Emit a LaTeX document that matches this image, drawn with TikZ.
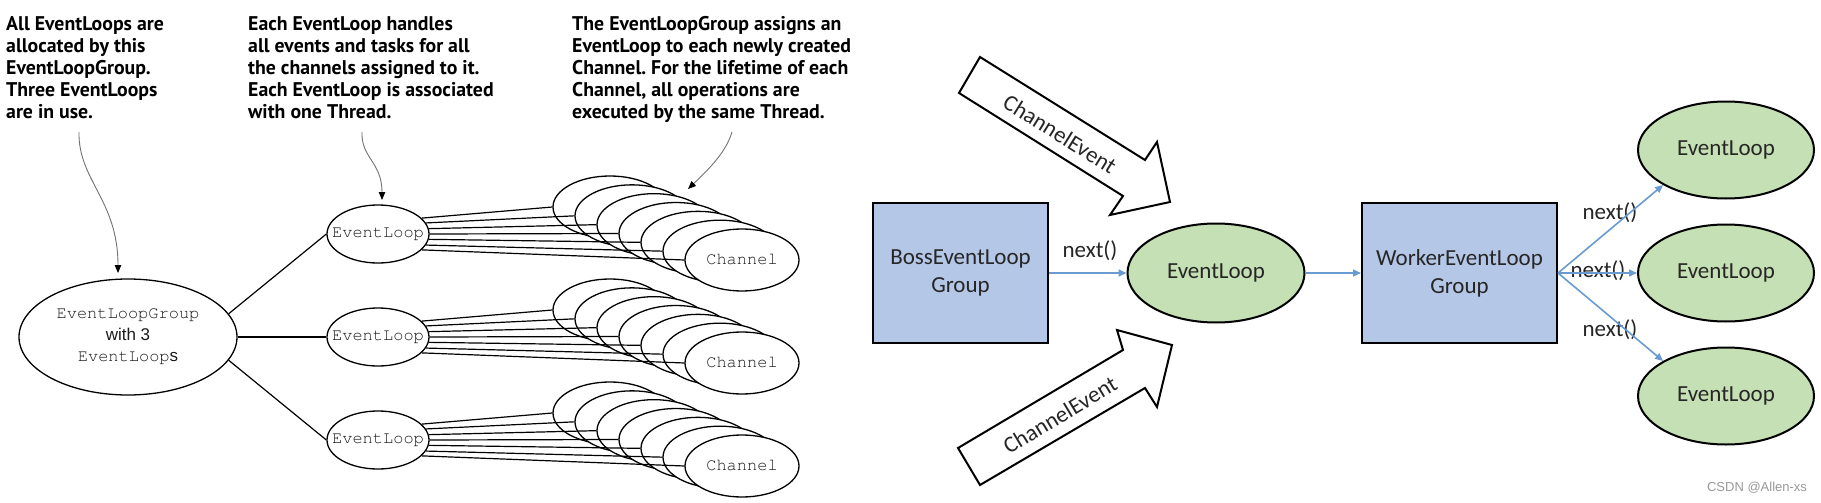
\documentclass[tikz,border=0pt]{standalone}
\usepackage{fontspec}
\setmainfont{Carlito}
\newfontfamily\annfont{PT Sans}
\newfontfamily\cmono{texgyrecursor}[Extension=.otf, UprightFont=*-regular, BoldFont=*-bold]
\newfontfamily\carial{Liberation Sans}
\usetikzlibrary{arrows.meta,shapes.geometric}
\definecolor{bossblue}{HTML}{B4C7E7}
\definecolor{elgreen}{HTML}{C5E0B4}
\definecolor{arrblue}{HTML}{6A9BD0}
\definecolor{txtdark}{HTML}{262626}
\definecolor{lefttxt}{HTML}{1A1A1A}
\frenchspacing
\begin{document}
\begin{tikzpicture}[x=1pt,y=-1pt,
  anntext/.style={anchor=north west, inner sep=0pt, align=left, text=black, font=\annfont\bfseries\fontsize{19.8}{22}\selectfont},
  annarrow/.style={draw=black!55, line width=0.9pt, -{Triangle[length=8pt,width=6.5pt,color=black]}},
  grpnode/.style={ellipse, draw=black, line width=1.3pt, fill=white, inner sep=0pt, minimum width=218pt, minimum height=116pt, align=center, text=lefttxt, font=\fontsize{17}{21.5}\selectfont},
  loopnode/.style={ellipse, draw=black, line width=1.3pt, fill=white, inner sep=0pt, minimum width=102pt, minimum height=58pt, text=lefttxt, font=\cmono\fontsize{17}{20}\selectfont},
  chnode/.style={ellipse, draw=black, line width=1.3pt, fill=white, inner sep=0pt, minimum width=114pt, minimum height=62pt, text=lefttxt, font=\cmono\fontsize{17}{20}\selectfont},
  wire/.style={draw=black, line width=1.2pt},
  groupbox/.style={rectangle, draw=black, line width=2pt, fill=bossblue, inner sep=0pt, minimum height=140pt, align=center, text=txtdark, font=\fontsize{23}{28}\selectfont},
  greenloop/.style={ellipse, draw=black, line width=2pt, fill=elgreen, inner sep=0pt, minimum width=176pt, minimum height=97pt, text=txtdark, font=\fontsize{23}{28}\selectfont},
  bluearrow/.style={draw=arrblue, line width=1.6pt, -{Triangle[length=8pt,width=7pt]}},
  nextlabel/.style={inner sep=0pt, text=txtdark, font=\fontsize{23}{28}\selectfont},
  blockarrow/.style={draw=black, line width=2pt, fill=white, line join=miter},
  celabel/.style={inner sep=0pt, text=txtdark, font=\fontsize{23}{28}\selectfont}
]
\useasboundingbox (0,0) rectangle (1821,503);
\fill[white] (0,0) rectangle (1821,503);

% ---------- left diagram: annotations ----------
\node[anntext] (t1) at (6,16) {All EventLoops are\\allocated by this\\EventLoopGroup.\\Three EventLoops\\are in use.};
\node[anntext] (t2) at (248,16) {Each EventLoop handles\\all events and tasks for all\\the channels assigned to it.\\Each EventLoop is associated\\with one Thread.};
\node[anntext] (t3) at (572,16) {The EventLoopGroup assigns an\\EventLoop to each newly created\\Channel. For the lifetime of each\\Channel, all operations are\\executed by the same Thread.};

% ---------- channel stacks ----------
\foreach \s in {0,1,2}{
  \foreach \k in {0,...,6}{
    \node[chnode] (ch-\s-\k) at ({610+22*\k},{207+8.833*\k+103*\s}) {\ifnum\k=6 \makebox[0pt]{Channel}\fi};
  }
}

% ---------- event loops and group ----------
\node[grpnode] (grp) at (128,337) {{\cmono EventLoopGroup}\\{\carial with 3}\\{\cmono EventLoop}{\carial s}};
\foreach \s in {0,1,2}{
  \node[loopnode] (el\s) at (378,{234+103*\s}) {\makebox[0pt]{EventLoop}};
}
\draw[wire] (grp.13) -- (el0.west);
\draw[wire] (grp.east) -- (el1.west);
\draw[wire] (grp.-13) -- (el2.west);
\foreach \s in {0,1,2}{
  \foreach \k [evaluate=\k as \ang using 20-6.667*\k] in {0,...,6}{
    \draw[wire] (el\s.\ang) -- (ch-\s-\k.west);
  }
}

% annotation arrows
\coordinate (a1s) at (79,132);
\coordinate (a1e) at (118,273);
\coordinate (a2s) at (362,132);
\coordinate (a2e) at (382,200);
\coordinate (a3s) at (732,132);
\coordinate (a3e) at (688,189);
\draw[annarrow] (a1s) .. controls (78,180) and (118,200) .. (a1e);
\draw[annarrow] (a2s) .. controls (361,158) and (382,162) .. (a2e);
\draw[annarrow] (a3s) .. controls (726,152) and (710,168) .. (a3e);

% ---------- right diagram ----------
\draw[blockarrow] (980,57) -- (1145,160) -- (1157,142) -- (1170,202) -- (1110,215) -- (1123,196) -- (959,93) -- cycle;
\node[celabel, rotate=-32] (ce1) at (1060,134) {ChannelEvent};
\draw[blockarrow] (980,485) -- (958,448) -- (1123,350) -- (1117,330) -- (1172,345) -- (1157,407) -- (1145,388) -- cycle;
\node[celabel, rotate=31] (ce2) at (1060,415) {ChannelEvent};

\node[groupbox, minimum width=175pt] (boss) at (960.5,273) {BossEventLoop\\Group};
\node[greenloop, minimum width=177pt, minimum height=99pt] (loopA) at (1216,273) {\makebox[0pt]{EventLoop}};
\node[groupbox, minimum width=195pt] (worker) at (1459.5,273) {WorkerEventLoop\\Group};
\node[greenloop] (b1) at (1726,150) {\makebox[0pt]{EventLoop}};
\node[greenloop] (b2) at (1726,273) {\makebox[0pt]{EventLoop}};
\node[greenloop] (b3) at (1726,396) {\makebox[0pt]{EventLoop}};

\node[nextlabel] (n0) at (1090,251) {next()};
\node[nextlabel] (n1) at (1610,213) {next()};
\node[nextlabel] (n2) at (1598,271) {next()};
\node[nextlabel] (n3) at (1610,330) {next()};

\draw[bluearrow] (boss.east) -- (loopA.west);
\draw[bluearrow] (loopA.east) -- (worker.west);
\draw[bluearrow] (worker.east) -- (b1.south west);
\draw[bluearrow] (worker.east) -- (b2.west);
\draw[bluearrow] (worker.east) -- (b3.north west);

\node[inner sep=0pt, text=black!40, font=\carial\fontsize{13}{15}\selectfont] (wm) at (1757,488) {CSDN @Allen-xs};
\end{tikzpicture}
\end{document}
